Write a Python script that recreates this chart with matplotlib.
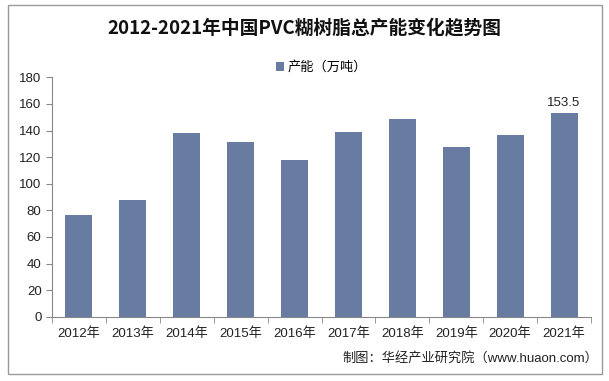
import matplotlib.pyplot as plt
from matplotlib.patches import Rectangle

plt.rcParams['font.family'] = ['Liberation Sans', 'Noto Sans CJK SC', 'DejaVu Sans']

years = ['2012年', '2013年', '2014年', '2015年', '2016年',
         '2017年', '2018年', '2019年', '2020年', '2021年']
capacity = [76.5, 88, 138.3, 131, 118, 139, 148.6, 127.6, 136.8, 153.5]

bar_color = '#687ba0'

fig = plt.figure(figsize=(6.09, 3.81), dpi=100)
ax = fig.add_axes([52 / 609, 1 - 316.7 / 381, (591 - 52) / 609, (316.7 - 77.3) / 381])

x = range(len(years))
ax.bar(x, capacity, width=0.5, color=bar_color, label='产能（万吨）', zorder=2)

ax.set_ylim(0, 180)
ax.set_yticks(range(0, 181, 20))
ax.set_xlim(-0.5, len(years) - 0.5)
ax.set_xticks(list(x))
ax.set_xticklabels(years)
ax.set_xticks([i - 0.5 for i in range(len(years) + 1)], minor=True)
ax.tick_params(axis='x', which='major', length=0, pad=8, labelsize=9.5, colors='#222222')
ax.tick_params(axis='x', which='minor', length=4, color='#888888')
ax.tick_params(axis='y', length=4, color='#888888', labelsize=9.5, labelcolor='#222222')

for s in ['top', 'right']:
    ax.spines[s].set_visible(False)
for s in ['left', 'bottom']:
    ax.spines[s].set_color('#888888')

# data label on last bar
ax.text(len(years) - 1, capacity[-1] + 3, f'{capacity[-1]:.1f}', ha='center', va='bottom',
        fontsize=9.5, color='#222222')

fig.text(0.5, 1 - 28 / 381, '2012-2021年中国PVC糊树脂总产能变化趋势图', ha='center', va='center',
         fontsize=13.5, fontweight='bold', color='#111111',
         family=['Noto Sans CJK SC', 'DejaVu Sans'])
ax.legend(loc='upper center', bbox_to_anchor=(0.5, 1 + 28 / 239.4), frameon=False,
          fontsize=9.5, handlelength=0.6, handleheight=0.6, handletextpad=0.3)

fig.text(598 / 609, 1 - 358 / 381, '制图：华经产业研究院（www.huaon.com）', ha='right', va='center',
         fontsize=9.5, color='#222222')

fig.patches.append(Rectangle((8 / 609, 1 - 374 / 381), 594 / 609, 369 / 381, transform=fig.transFigure,
                             fill=False, edgecolor='#9a9a9a', linewidth=1))

fig.savefig('out.png', dpi=100)
